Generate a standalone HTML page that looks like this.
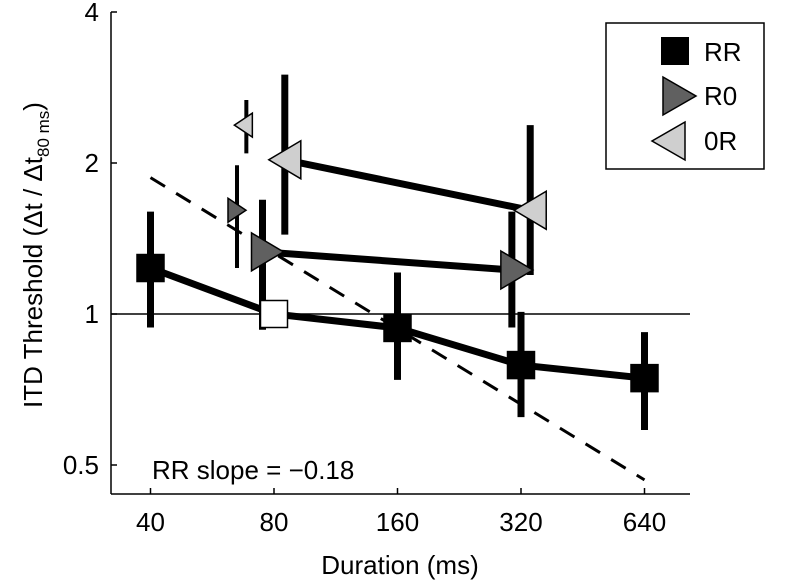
<!DOCTYPE html>
<html><head><meta charset="utf-8"><style>body{margin:0;background:#fff}svg{display:block;font-family:"Liberation Sans",sans-serif}</style></head>
<body>
<svg id="chart" width="800" height="583" viewBox="0 0 800 583"></svg>
<script>
const xTicks=[40,80,160,320,640];
const yTicks=[0.5,1,2,4];
const rrDur=[40,80,160,320,640];
const rrVal=[1.235,1,0.938,0.791,0.745];
const rrLo=[0.94,null,0.739,0.623,0.587];
const rrHi=[1.60,null,1.21,1.01,0.92];
const r0Dur=[75,304];
const r0Val=[1.33,1.224];
const r0Lo=[0.93,0.94];
const r0Hi=[1.69,1.60];
const orDur=[85,337];
const orVal=[2.03,1.61];
const orLo=[1.44,1.196];
const orHi=[3.0,2.38];
const smallR0=[65,1.61,1.235,1.98];
const small0R=[68.5,2.38,2.09,2.67];
const fitDur=[40,640];
const fitVal=[1.87,0.467];

const NS="http://www.w3.org/2000/svg";
const svg=document.getElementById('chart');
const X=d=>274+123.5*Math.log2(d/80);
const Y=v=>314-151*Math.log2(v);
function mk(tag,a,parent){const e=document.createElementNS(NS,tag);for(const k in a)e.setAttribute(k,a[k]);(parent||svg).appendChild(e);return e;}

let e=mk('line',{x1:111,y1:12,x2:111,y2:494,stroke:'#000','stroke-width':1.5});


e=mk('line',{x1:111,y1:494,x2:690,y2:494,stroke:'#000','stroke-width':1.5});


xTicks.forEach(t=>{
 mk('line',{x1:X(t),y1:494,x2:X(t),y2:488,stroke:'#000','stroke-width':1.5});
 const tx=mk('text',{x:X(t),y:531,'font-size':26,'text-anchor':'middle'});tx.textContent=t;
 
 
});
yTicks.forEach(t=>{
 mk('line',{x1:111,y1:Y(t),x2:117,y2:Y(t),stroke:'#000','stroke-width':1.5});
 const tx=mk('text',{x:99,y:Y(t)+9,'font-size':26,'text-anchor':'end'});tx.textContent=t;
 
 
});
e=mk('line',{x1:111,y1:Y(1),x2:690,y2:Y(1),stroke:'#000','stroke-width':1.5});



e=mk('line',{x1:X(fitDur[0]),y1:Y(fitVal[0]),x2:X(fitDur[1]),y2:Y(fitVal[1]),stroke:'#000','stroke-width':3,'stroke-dasharray':'17,13'});



function bar(d,lo,hi,w){const b=mk('line',{x1:X(d),y1:Y(lo),x2:X(d),y2:Y(hi),stroke:'#000','stroke-width':w});
 
 }
function series(dur,val,name){const p=mk('polyline',{points:dur.map((d,i)=>X(d)+','+Y(val[i])).join(' '),fill:'none',stroke:'#000','stroke-width':7});
 
 }
function tri(cx,cy,w,h,dir,fill,name){const hw=w/2;
 const pts=dir>0?`${cx-hw},${cy-h/2} ${cx+hw},${cy} ${cx-hw},${cy+h/2}`:`${cx+hw},${cy-h/2} ${cx-hw},${cy} ${cx+hw},${cy+h/2}`;
 const t=mk('polygon',{points:pts,fill:fill,stroke:'#000','stroke-width':1.5});
 
 }

bar(smallR0[0],smallR0[2],smallR0[3],4);
tri(X(smallR0[0]),Y(smallR0[1]),18,24,1,'#606060','r0-small-marker');
bar(small0R[0],small0R[2],small0R[3],4);
tri(X(small0R[0])-3,Y(small0R[1]),18,24,-1,'#cfcfcf','0r-small-marker');

orDur.forEach((d,i)=>bar(d,orLo[i],orHi[i],7));
series(orDur,orVal,'0r');
orDur.forEach((d,i)=>tri(X(d),Y(orVal[i]),32,38,-1,'#cfcfcf','0r-marker'));
r0Dur.forEach((d,i)=>bar(d,r0Lo[i],r0Hi[i],7));
series(r0Dur,r0Val,'r0');
r0Dur.forEach((d,i)=>tri(X(d)+5,Y(r0Val[i]),32,38,1,'#606060','r0-marker'));
rrDur.forEach((d,i)=>{if(rrLo[i]!==null)bar(d,rrLo[i],rrHi[i],7);});
series(rrDur,rrVal,'rr');
rrDur.forEach((d,i)=>{const r=mk('rect',{x:X(d)-13.5,y:Y(rrVal[i])-13.5,width:27,height:27,fill:d===80?'#fff':'#000',stroke:'#000','stroke-width':1.5});
 
 });

e=mk('text',{x:152,y:479,'font-size':26});e.textContent='RR slope = \u22120.18';


e=mk('text',{x:400,y:574,'font-size':26,'text-anchor':'middle'});e.textContent='Duration (ms)';


e=mk('text',{x:0,y:0,'font-size':26,'text-anchor':'middle',transform:'translate(42,255) rotate(-90)'});
e.innerHTML='ITD Threshold (\u0394t / \u0394t<tspan font-size="17" dy="7">80 ms</tspan><tspan dy="-7">)</tspan>';



const lg=mk('g',{});


mk('rect',{x:606,y:23,width:158,height:146,fill:'#fff',stroke:'#000','stroke-width':1.5},lg);
mk('rect',{x:661,y:37,width:28,height:28,fill:'#000'},lg);
const t1=mk('text',{x:704,y:61,'font-size':26},lg);t1.textContent='RR';
mk('polygon',{points:'663,77 696,96 663,115',fill:'#606060',stroke:'#000','stroke-width':1.5},lg);
const t2=mk('text',{x:704,y:105,'font-size':26},lg);t2.textContent='R0';
mk('polygon',{points:'685,122 652,141 685,160',fill:'#cfcfcf',stroke:'#000','stroke-width':1.5},lg);
const t3=mk('text',{x:704,y:150,'font-size':26},lg);t3.textContent='0R';
[t1,t2,t3].forEach(t=>{
 });
</script>
</body></html>
